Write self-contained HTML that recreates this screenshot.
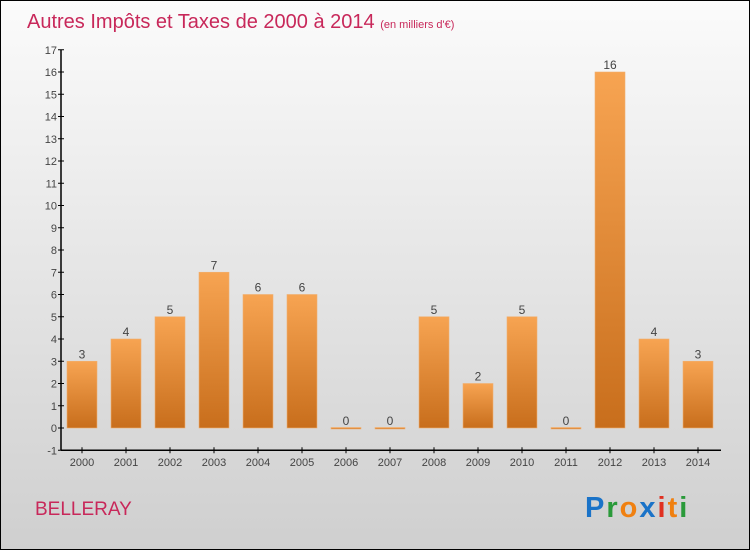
<!DOCTYPE html>
<html><head><meta charset="utf-8"><style>
body{margin:0}
#c{width:748px;height:548px;border:1px solid #000;background:linear-gradient(#fbfbfb,#cfcfcf);position:relative;font-family:"Liberation Sans",sans-serif}
</style></head><body>
<div id="c">
<svg width="748" height="548">
<defs><linearGradient id="g" x1="0" y1="0" x2="0" y2="1"><stop offset="0" stop-color="#f7a452"/><stop offset="1" stop-color="#c86e1c"/></linearGradient></defs>
<text x="26" y="27" font-size="20" fill="#c8285a">Autres Impôts et Taxes de 2000 à 2014 <tspan font-size="11">(en milliers d'€)</tspan></text>
<text x="34" y="514" font-size="19" fill="#c8285a">BELLERAY</text>
<text x="584" y="516" font-size="29" font-weight="bold" letter-spacing="2"><tspan fill="#1a73c8">P</tspan><tspan fill="#2a9a3a">r</tspan><tspan fill="#f08010">o</tspan><tspan fill="#1a73c8">x</tspan><tspan fill="#e03020">i</tspan><tspan fill="#f08010">t</tspan><tspan fill="#2a9a3a">i</tspan></text>
<g id="plot"></g>
</svg></div>
<script>
const years=["2000","2001","2002","2003","2004","2005","2006","2007","2008","2009","2010","2011","2012","2013","2014"];
const values=[3,4,5,7,6,6,0,0,5,2,5,0,16,4,3];
const yTicks=[-1,0,1,2,3,4,5,6,7,8,9,10,11,12,13,14,15,16,17];
const NS="http://www.w3.org/2000/svg";
const g=document.getElementById('plot');
const Y=v=>427-v*22.25, X=i=>81+i*44;
function mk(t,a,txt){const e=document.createElementNS(NS,t);for(const k in a)e.setAttribute(k,a[k]);if(txt!==undefined)e.textContent=txt;g.appendChild(e);return e;}
let e=mk('line',{x1:60,y1:Y(17),x2:60,y2:Y(-1),stroke:'#000','stroke-width':1.5});

e=mk('line',{x1:60,y1:Y(-1),x2:720,y2:Y(-1),stroke:'#000','stroke-width':1.5});

yTicks.forEach(t=>{
 mk('line',{x1:57,y1:Y(t),x2:63,y2:Y(t),stroke:'#000'});
 e=mk('text',{x:56,y:Y(t)+4,'font-size':11,fill:'#444','text-anchor':'end'},String(t));
 
});
years.forEach((y,i)=>{
 const v=values[i];
 mk('line',{x1:X(i),y1:Y(-1)-3,x2:X(i),y2:Y(-1)+3,stroke:'#000'});
 e=mk('text',{x:X(i),y:465,'font-size':11,fill:'#444','text-anchor':'middle'},y);
 
 const h=Math.max(Y(0)-Y(v),1.5);
 e=mk('rect',{x:X(i)-15,y:Y(0)-h+(v==0?1:0),width:30,height:h,fill:'url(#g)',stroke:'#f0b070','stroke-width':0.6});
 
 e=mk('text',{x:X(i),y:Y(v)-3,'font-size':12,fill:'#444','text-anchor':'middle'},String(v));
 
});
</script>
</body></html>
